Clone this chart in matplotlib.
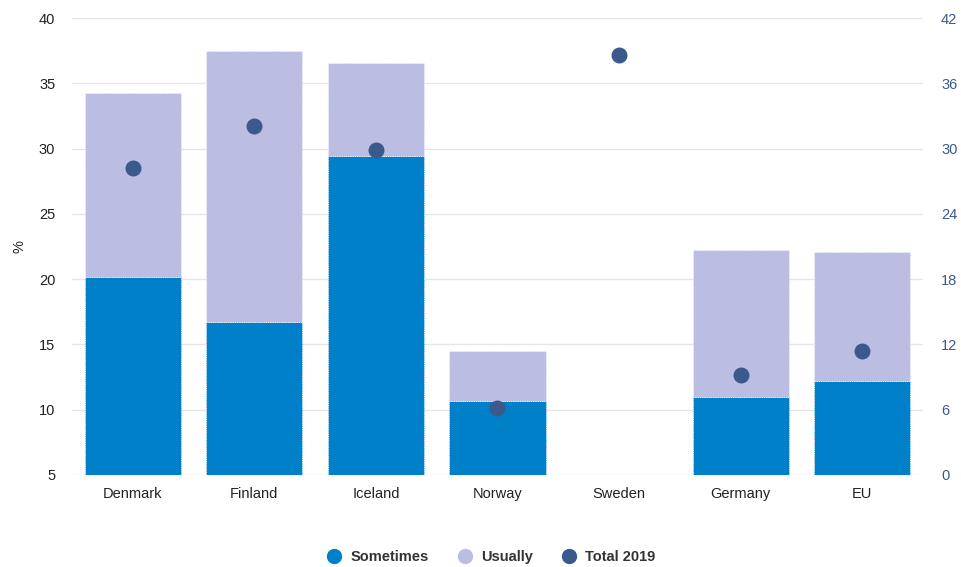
import matplotlib.pyplot as plt
from matplotlib.lines import Line2D
import numpy as np

plt.rcParams['font.family'] = ['Liberation Sans', 'DejaVu Sans']

countries = ["Denmark", "Finland", "Iceland", "Norway", "Sweden", "Germany", "EU"]
sometimes = [20.2, 16.7, 29.4, 10.7, np.nan, 11.0, 12.2]
usually = [14.1, 20.8, 7.2, 3.8, np.nan, 11.2, 9.9]
total_2019 = [28.2, 32.1, 29.9, 6.2, 38.6, 9.2, 11.4]

c_some = "#0080c9"
c_usual = "#bbbde2"
c_total = "#3a5a8c"

fig = plt.figure(figsize=(9.62, 5.67), dpi=100)
ax = fig.add_axes([0.0748, 0.1623, 0.8847, 0.8057])
x = np.arange(len(countries))

some = np.nan_to_num(sometimes)
usual = np.nan_to_num(usually)
# bars start from the bottom of the axis (5)
ax.bar(x, some - 5, bottom=5, width=0.79, color=c_some,
       edgecolor="white", linewidth=0.6, linestyle=":", zorder=2)
ax.bar(x, usual, bottom=some, width=0.79, color=c_usual,
       edgecolor="white", linewidth=0.6, linestyle=":", zorder=2)

ax.set_ylim(5, 40)
ax.set_yticks(range(5, 41, 5))
ax.set_xlim(-0.5, len(countries) - 0.5)
ax.set_xticks(x)
ax.set_xticklabels(countries)
ax.grid(axis="y", color="#e6e6e6", linewidth=1, zorder=0)
ax.set_axisbelow(True)
for s in ax.spines.values():
    s.set_visible(False)
ax.tick_params(axis="both", length=0, labelsize=10.5, colors="#222222")
ax.tick_params(axis="x", pad=9)
ax.tick_params(axis="y", pad=12)
ax.set_ylabel("%", fontsize=10.5, color="#222222", labelpad=9)

ax2 = ax.twinx()
ax2.set_ylim(0, 42)
ax2.set_yticks(range(0, 43, 6))
ax2.scatter(x, total_2019, s=110, color=c_total, zorder=3)
for s in ax2.spines.values():
    s.set_visible(False)
ax2.tick_params(axis="y", length=0, labelsize=10.5, labelcolor=c_total, pad=13)

handles = [
    Line2D([], [], marker="o", linestyle="", markersize=10, color=c_some, label="Sometimes"),
    Line2D([], [], marker="o", linestyle="", markersize=10, color=c_usual, label="Usually"),
    Line2D([], [], marker="o", linestyle="", markersize=10, color=c_total, label="Total 2019"),
]
leg = fig.legend(handles=handles, loc="center", bbox_to_anchor=(0.507, 0.017),
                 ncol=3, frameon=False, handletextpad=0.1, columnspacing=1.5,
                 prop={"weight": "bold", "size": 10.5})
for t in leg.get_texts():
    t.set_color("#333333")

fig.savefig("out.png", dpi=100)
